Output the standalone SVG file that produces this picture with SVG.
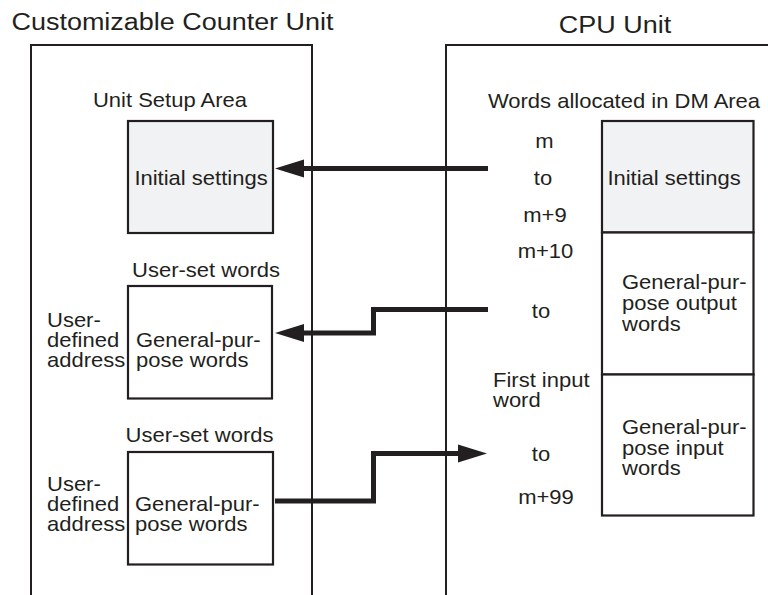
<svg xmlns="http://www.w3.org/2000/svg" width="768" height="595" viewBox="0 0 768 595">
<style>
text{font-family:"Liberation Sans",Arial,sans-serif;font-size:20px;fill:#231f20}
.t{font-size:24.5px}
.m{text-anchor:middle}
.frame{fill:none;stroke:#231f20;stroke-width:2}
.box{fill:#fff;stroke:#231f20;stroke-width:2.2}
.grey{fill:#f1f2f4;stroke:#231f20;stroke-width:2.2}
.conn{fill:none;stroke:#231f20;stroke-width:5}
</style>
<defs>
<marker id="ah" markerUnits="userSpaceOnUse" markerWidth="30" markerHeight="20" viewBox="0 -10 30 20" refX="0" refY="0" orient="auto">
<path d="M0,-9 L29,0 L0,9 Z" fill="#231f20"/>
</marker>
</defs>
<rect width="768" height="595" fill="#fff"/>

<g id="counter-unit">
<path class="frame" d="M31,595 V45 H312 V595"/>
<text class="t m" transform="translate(172.5,30) scale(1.1,1)">Customizable Counter Unit</text>
</g>

<g id="cpu-unit">
<path class="frame" d="M446,595 V45 H768"/>
<text class="t m" transform="translate(615,33) scale(1.1,1)">CPU Unit</text>
</g>

<g id="unit-setup">
<text class="m" transform="translate(170,107) scale(1.1,1)">Unit Setup Area</text>
<rect class="grey" x="128" y="121" width="145" height="112"/>
<text class="m" transform="translate(201,185) scale(1.1,1)">Initial settings</text>
</g>

<g id="user-words-1">
<text class="m" transform="translate(206,277) scale(1.1,1)">User-set words</text>
<rect class="box" x="128" y="286" width="144" height="112.5"/>
<text transform="translate(136,347) scale(1.1,1)">General-pur-</text>
<text transform="translate(136,367) scale(1.1,1)">pose words</text>
<text transform="translate(47,327) scale(1.1,1)">User-</text>
<text transform="translate(47,347) scale(1.1,1)">defined</text>
<text transform="translate(47,367) scale(1.1,1)">address</text>
</g>

<g id="user-words-2">
<text class="m" transform="translate(199.5,441.5) scale(1.1,1)">User-set words</text>
<rect class="box" x="128" y="452" width="145" height="112.5"/>
<text transform="translate(135,511) scale(1.1,1)">General-pur-</text>
<text transform="translate(135,531) scale(1.1,1)">pose words</text>
<text transform="translate(47,491) scale(1.1,1)">User-</text>
<text transform="translate(47,511) scale(1.1,1)">defined</text>
<text transform="translate(47,531) scale(1.1,1)">address</text>
</g>

<g id="dm-area">
<text class="m" transform="translate(624,108) scale(1.1,1)">Words allocated in DM Area</text>
<text class="m" transform="translate(544.5,148) scale(1.1,1)">m</text>
<text class="m" transform="translate(543,185) scale(1.1,1)">to</text>
<text class="m" transform="translate(545,221.5) scale(1.1,1)">m+9</text>
<text class="m" transform="translate(545.5,258) scale(1.1,1)">m+10</text>
<text class="m" transform="translate(541,317.5) scale(1.1,1)">to</text>
<text transform="translate(493,386.5) scale(1.1,1)">First input</text>
<text transform="translate(493,406.5) scale(1.1,1)">word</text>
<text class="m" transform="translate(541,460.5) scale(1.1,1)">to</text>
<text class="m" transform="translate(546,503.5) scale(1.1,1)">m+99</text>
</g>

<g id="dm-initial">
<rect class="grey" x="602" y="121" width="151.5" height="111.5"/>
<text class="m" transform="translate(674,185) scale(1.1,1)">Initial settings</text>
</g>

<g id="dm-output">
<rect class="box" x="602" y="232.5" width="151.5" height="142"/>
<text transform="translate(622,288.5) scale(1.1,1)">General-pur-</text>
<text transform="translate(622,310) scale(1.1,1)">pose output</text>
<text transform="translate(622,330.5) scale(1.1,1)">words</text>
</g>

<g id="dm-input">
<rect class="box" x="602" y="374.5" width="151.5" height="141"/>
<text transform="translate(622,433.5) scale(1.1,1)">General-pur-</text>
<text transform="translate(622,454.5) scale(1.1,1)">pose input</text>
<text transform="translate(622,475) scale(1.1,1)">words</text>
</g>

<g id="connectors">
<path class="conn" d="M488,168.5 H304" marker-end="url(#ah)"/>
<path class="conn" d="M488,309.5 H373.5 V333 H304" marker-end="url(#ah)"/>
<path class="conn" d="M275,501 H373.5 V453.5 H458" marker-end="url(#ah)"/>
</g>
</svg>
